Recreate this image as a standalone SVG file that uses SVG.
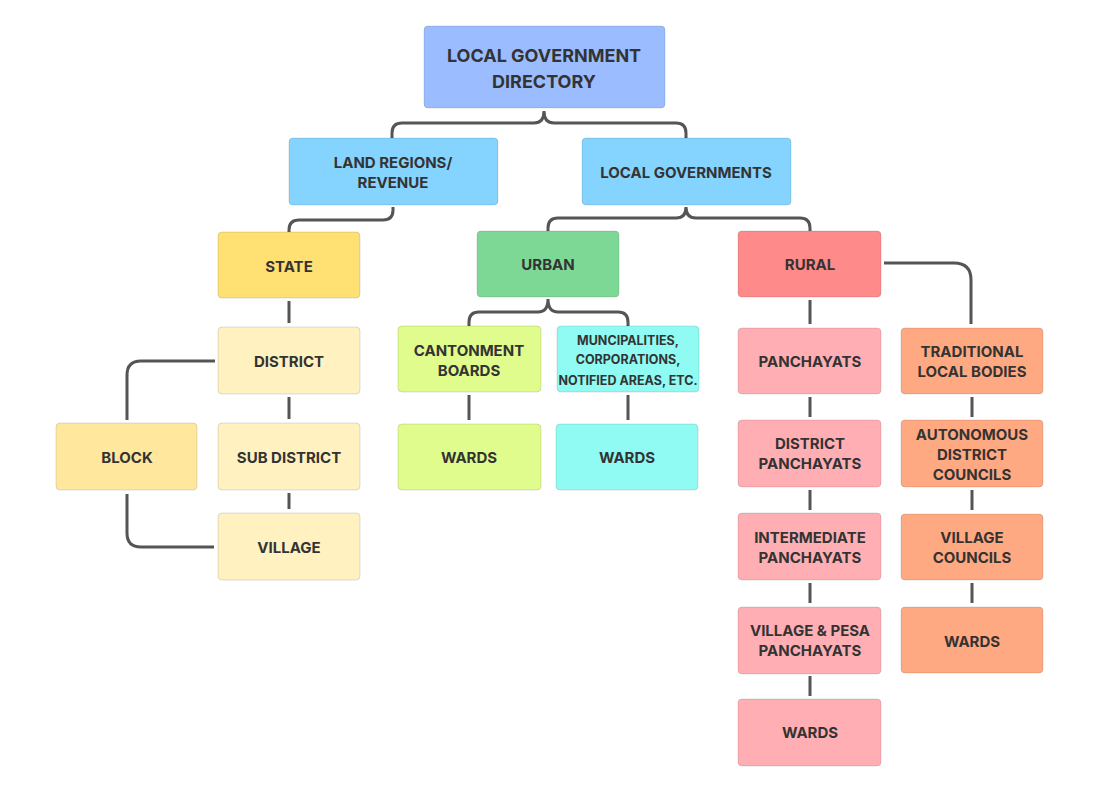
<svg xmlns="http://www.w3.org/2000/svg" width="1106" height="800" viewBox="0 0 1106 800">
<style>
.n rect{stroke:rgba(0,0,0,0.12);stroke-width:1}
.t{font-family:Inter,"Liberation Sans",sans-serif;font-weight:700;font-size:15px;fill:#333;text-anchor:middle;dominant-baseline:central}
.big{font-size:18px}
.sm{font-size:12.5px}
.c path{fill:none;stroke:#555;stroke-width:3;stroke-linecap:butt}
</style>
<rect width="1106" height="800" fill="#fff"/>
<g class="c" id="connectors">
<path d="M392 138V133Q392 123 402 123H534Q544 123 544 111Q544 123 554 123H676Q686 123 686 133V138"/>
<path d="M393 207V210Q393 220 383 220H299Q289 220 289 230V232"/>
<path d="M548 231V228Q548 218 558 218H676Q686 218 686 207Q686 218 696 218H800Q810 218 810 228V231"/>
<path d="M469 326V322Q469 312 479 312H538Q548 312 548 299Q548 312 558 312H618Q628 312 628 322V326"/>
<path d="M289 301V323"/>
<path d="M289 397V419"/>
<path d="M289 493V509"/>
<path d="M215 361H141Q127 361 127 375V420"/>
<path d="M127 494V533Q127 547 141 547H214"/>
<path d="M469 395V420"/>
<path d="M628 395V420"/>
<path d="M810 300V324"/>
<path d="M810 397V417"/>
<path d="M810 490V510"/>
<path d="M810 583V603"/>
<path d="M810 676V696"/>
<path d="M884 263H954Q971 263 971 280V324"/>
<path d="M972 397V417"/>
<path d="M972 490V510"/>
<path d="M972 583V603"/>
</g>
<g class="n" id="root"><rect x="424" y="26" width="241" height="82" rx="4" fill="#9BBDFF"/><text class="t big" x="544" y="55">LOCAL GOVERNMENT</text><text class="t big" x="544" y="81">DIRECTORY</text></g>
<g class="n" id="land"><rect x="289" y="138" width="209" height="67" rx="4" fill="#85D3FF"/><text class="t" x="393" y="162">LAND REGIONS/</text><text class="t" x="393" y="182">REVENUE</text></g>
<g class="n" id="localgov"><rect x="582" y="138" width="209" height="67" rx="4" fill="#85D3FF"/><text class="t" x="686" y="172">LOCAL GOVERNMENTS</text></g>
<g class="n" id="state"><rect x="218" y="232" width="142" height="66" rx="4" fill="#FFE073"/><text class="t" x="289" y="266">STATE</text></g>
<g class="n" id="district"><rect x="218" y="327" width="142" height="67" rx="4" fill="#FFF1C0"/><text class="t" x="289" y="361">DISTRICT</text></g>
<g class="n" id="subdistrict"><rect x="218" y="423" width="142" height="67" rx="4" fill="#FFF1C0"/><text class="t" x="289" y="457">SUB DISTRICT</text></g>
<g class="n" id="village"><rect x="218" y="513" width="142" height="67" rx="4" fill="#FFF1C0"/><text class="t" x="289" y="547">VILLAGE</text></g>
<g class="n" id="block"><rect x="56" y="423" width="141" height="67" rx="4" fill="#FFE89E"/><text class="t" x="127" y="457">BLOCK</text></g>
<g class="n" id="urban"><rect x="477" y="231" width="142" height="66" rx="4" fill="#7ED895"/><text class="t" x="548" y="264">URBAN</text></g>
<g class="n" id="rural"><rect x="738" y="231" width="143" height="66" rx="4" fill="#FF8A8A"/><text class="t" x="810" y="264">RURAL</text></g>
<g class="n" id="cantonment"><rect x="398" y="326" width="143" height="66" rx="4" fill="#E0FC8C"/><text class="t" x="469" y="350">CANTONMENT</text><text class="t" x="469" y="370">BOARDS</text></g>
<g class="n" id="municipal"><rect x="557" y="326" width="142" height="66" rx="4" fill="#8FFBF3"/><text class="t sm" x="628" y="340">MUNCIPALITIES,</text><text class="t sm" x="628" y="359">CORPORATIONS,</text><text class="t sm" x="628" y="380">NOTIFIED AREAS, ETC.</text></g>
<g class="n" id="wards-cant"><rect x="398" y="424" width="143" height="66" rx="4" fill="#E0FC8C"/><text class="t" x="469" y="457">WARDS</text></g>
<g class="n" id="wards-muni"><rect x="556" y="424" width="142" height="66" rx="4" fill="#8FFBF3"/><text class="t" x="627" y="457">WARDS</text></g>
<g class="n" id="panchayats"><rect x="738" y="328" width="143" height="66" rx="4" fill="#FFAFB4"/><text class="t" x="810" y="361">PANCHAYATS</text></g>
<g class="n" id="dist-panch"><rect x="738" y="420" width="143" height="67" rx="4" fill="#FFAFB4"/><text class="t" x="810" y="443">DISTRICT</text><text class="t" x="810" y="463">PANCHAYATS</text></g>
<g class="n" id="inter-panch"><rect x="738" y="513" width="143" height="67" rx="4" fill="#FFAFB4"/><text class="t" x="810" y="537">INTERMEDIATE</text><text class="t" x="810" y="557">PANCHAYATS</text></g>
<g class="n" id="village-panch"><rect x="738" y="607" width="143" height="67" rx="4" fill="#FFAFB4"/><text class="t" x="810" y="630">VILLAGE &amp; PESA</text><text class="t" x="810" y="650">PANCHAYATS</text></g>
<g class="n" id="wards-rural"><rect x="738" y="699" width="143" height="67" rx="4" fill="#FFAFB4"/><text class="t" x="810" y="732">WARDS</text></g>
<g class="n" id="traditional"><rect x="901" y="328" width="142" height="66" rx="4" fill="#FFA982"/><text class="t" x="972" y="351">TRADITIONAL</text><text class="t" x="972" y="371">LOCAL BODIES</text></g>
<g class="n" id="autonomous"><rect x="901" y="420" width="142" height="67" rx="4" fill="#FFA982"/><text class="t" x="972" y="434">AUTONOMOUS</text><text class="t" x="972" y="454">DISTRICT</text><text class="t" x="972" y="474">COUNCILS</text></g>
<g class="n" id="village-councils"><rect x="901" y="514" width="142" height="66" rx="4" fill="#FFA982"/><text class="t" x="972" y="537">VILLAGE</text><text class="t" x="972" y="557">COUNCILS</text></g>
<g class="n" id="wards-trad"><rect x="901" y="607" width="142" height="66" rx="4" fill="#FFA982"/><text class="t" x="972" y="641">WARDS</text></g>
</svg>
